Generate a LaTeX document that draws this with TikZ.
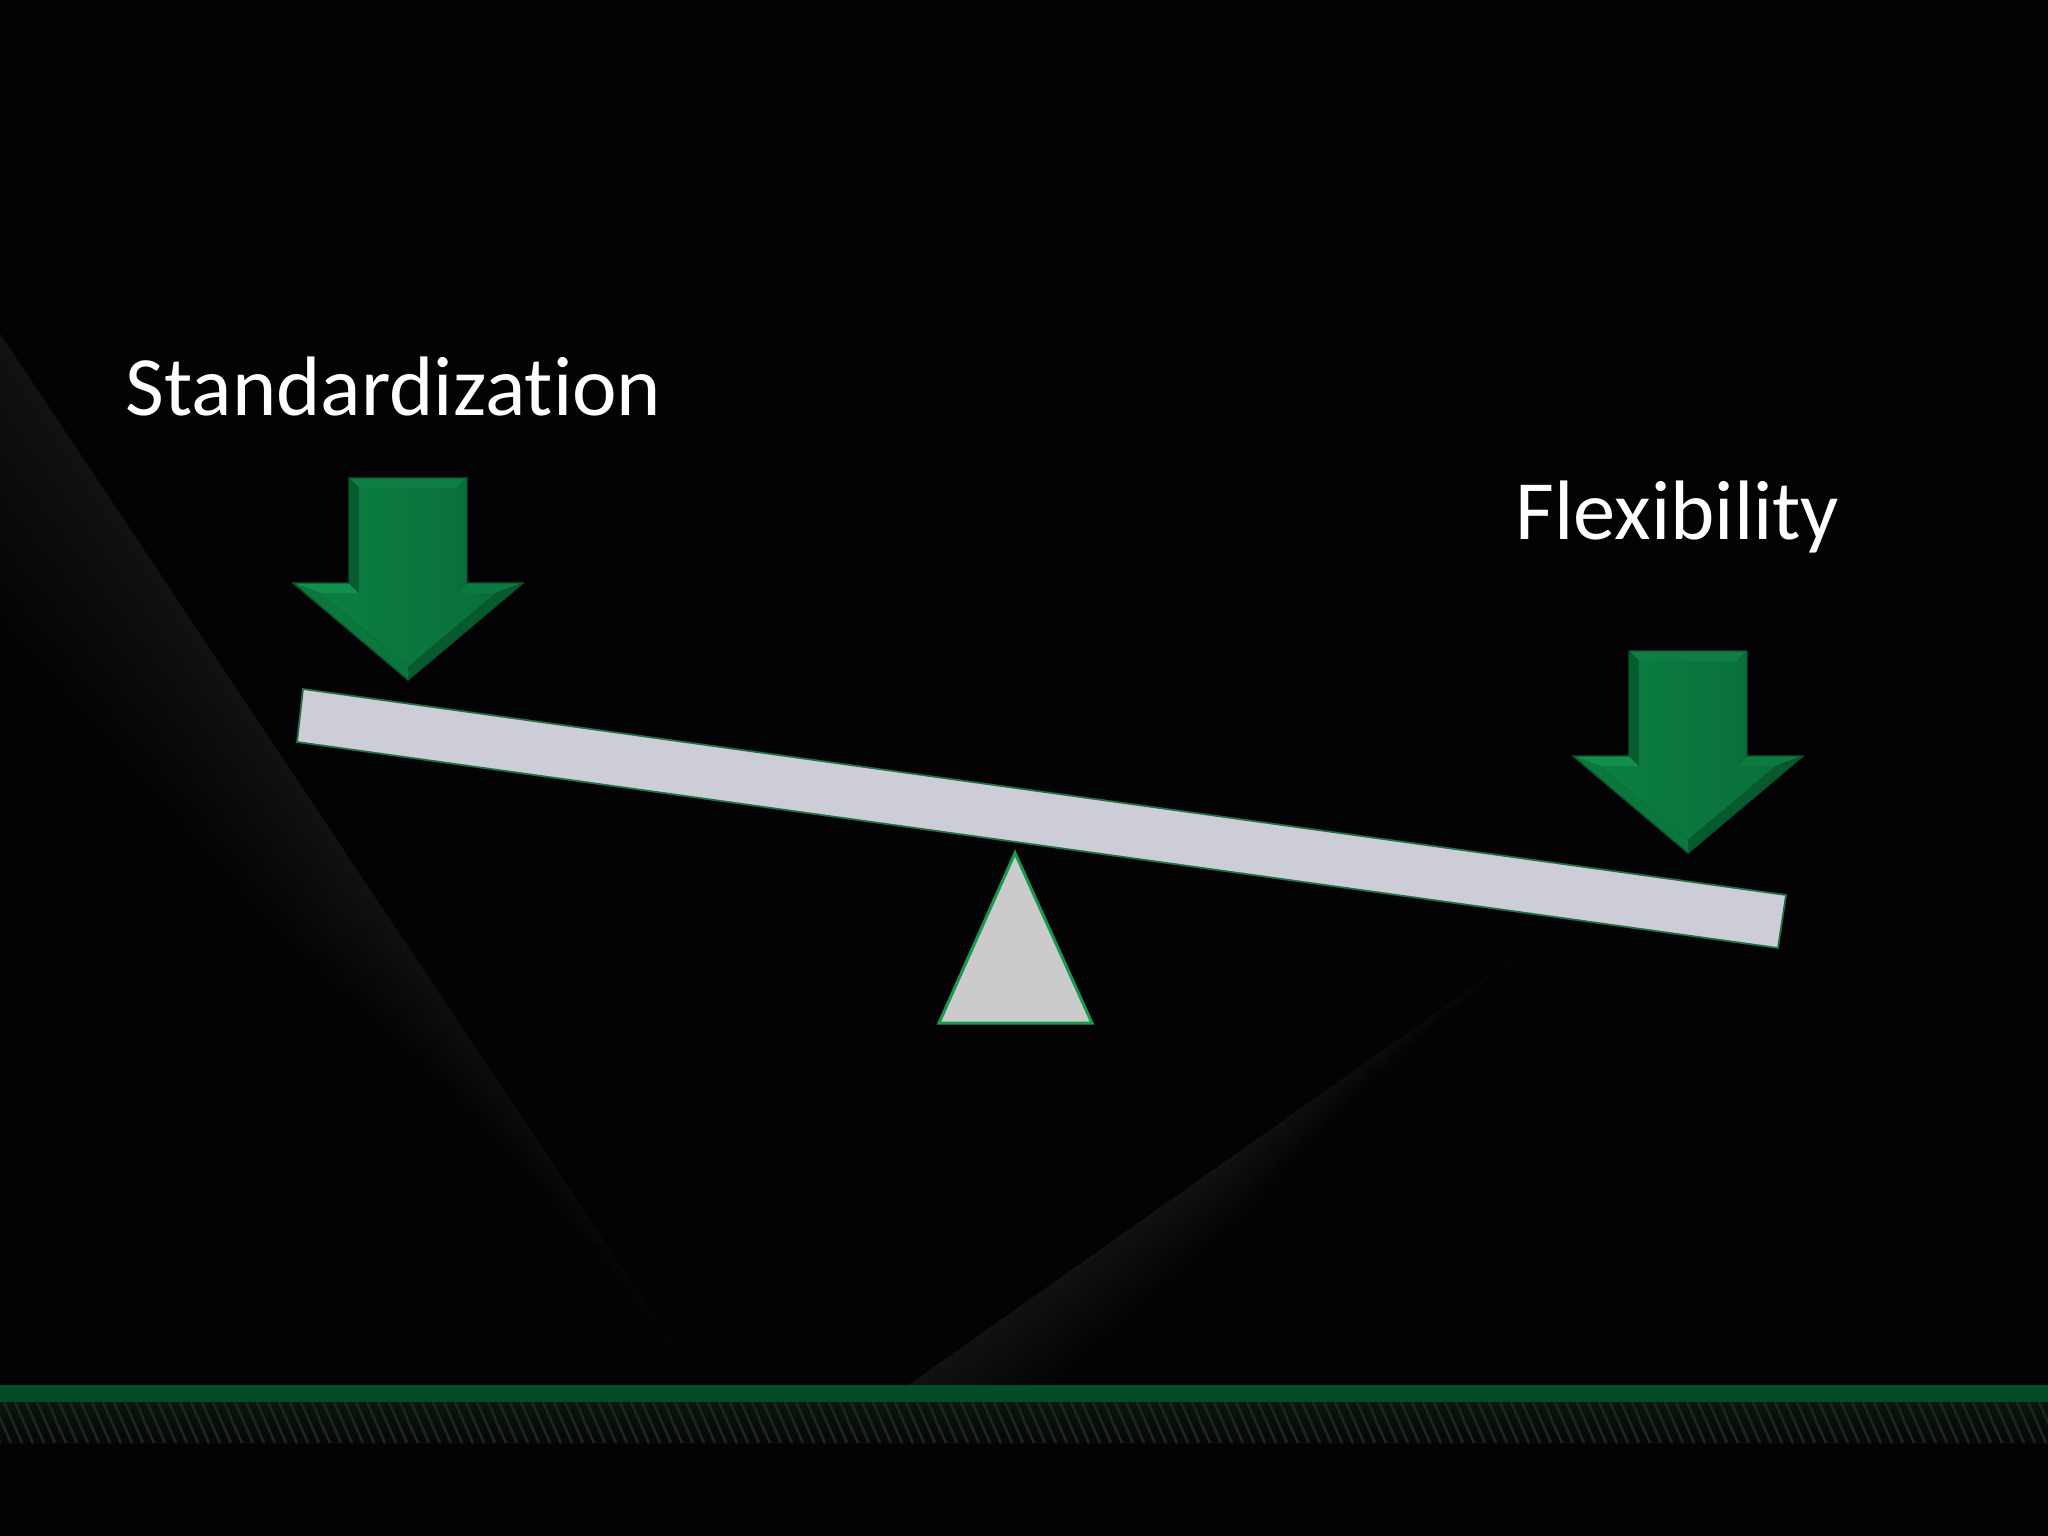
\documentclass[tikz,border=0pt]{standalone}
\usepackage{fontspec}
\setmainfont{Carlito}[Ligatures=NoCommon]
\begin{document}
\begin{tikzpicture}[x=0.01cm,y=-0.01cm,
  lbl/.style={inner sep=0pt,text=white,font=\fontsize{24pt}{29pt}\selectfont},
  glowlayer/.style={fill=white,opacity=0.0068}]
\definecolor{bgc}{HTML}{030305}
\definecolor{stripe}{HTML}{034D26}
\definecolor{hatchtop}{HTML}{0B140E}
\definecolor{hatchbot}{HTML}{050706}
\definecolor{hatchline}{HTML}{1A251E}
\definecolor{beamc}{HTML}{CCCDD7}
\definecolor{beamedge}{HTML}{1E7047}
\definecolor{trifill}{HTML}{CBCBCB}
\definecolor{triedge}{HTML}{169A4F}
\definecolor{abodyL}{HTML}{0C7F42}
\definecolor{abodyR}{HTML}{0A6F3A}
\definecolor{atop}{HTML}{0E7E44}
\definecolor{aleft}{HTML}{075C30}
\definecolor{aright}{HTML}{096E3B}
\definecolor{awingL}{HTML}{12904B}
\definecolor{awingR}{HTML}{0B7A40}
\definecolor{aslantL}{HTML}{0B773D}
\definecolor{aslantR}{HTML}{075A2D}
\definecolor{aout}{HTML}{08552C}
\useasboundingbox (0,0) rectangle (2048,1536);
\fill[bgc] (0,0) rectangle (2048,1536);
% left glow
\foreach \k in {1,...,14}{
  \pgfmathsetmacro\f{\k/14}
  \pgfmathsetmacro\s{1-0.45*(\k-1)/13}
  \pgfmathsetmacro\ex{\s*700}
  \pgfmathsetmacro\ey{333+\s*1052}
  \pgfmathsetmacro\w{190+\s*(18-190)}
  \fill[glowlayer] (0,333) -- (\ex,\ey) -- (\ex-0.8325*\f*\w,\ey+0.554*\f*\w)
     -- (-0.8325*\f*190,333+0.554*\f*190) -- cycle;
}
% right glow
\foreach \k in {1,...,14}{
  \pgfmathsetmacro\f{\k/14}
  \pgfmathsetmacro\s{1-0.5*(\k-1)/13}
  \pgfmathsetmacro\ex{908+\s*652}
  \pgfmathsetmacro\ey{1385-\s*460}
  \pgfmathsetmacro\w{95+\s*(8-95)}
  \fill[glowlayer] (908,1385) -- (\ex,\ey) -- (\ex+0.5764*\f*\w,\ey+0.817*\f*\w)
     -- (908+0.5764*\f*95,1385+0.817*\f*95) -- cycle;
}
% bottom band
\fill[bgc] (0,1385) rectangle (2048,1536);
\fill[stripe] (0,1385) rectangle (2048,1402);
\shade[top color=hatchtop,bottom color=hatchbot] (0,1402) rectangle (2048,1443);
\begin{scope}
  \clip (0,1402) rectangle (2048,1443);
  \foreach \x in {-40,-29,...,2060}
    \draw[hatchline,line width=0.8pt] (\x,1402) -- (\x+18,1443);
\end{scope}
% beam
\fill[beamc,draw=beamedge,line width=0.5pt] (303,689) -- (1786,895) -- (1778,948) -- (297,742) -- cycle;
% fulcrum
\filldraw[fill=trifill,draw=triedge,line width=0.85pt,line join=miter] (1015,853) -- (1092,1023) -- (939,1023) -- cycle;
% arrows
\foreach \cx/\ty in {408/478,1688/651}{
 \begin{scope}[shift={(\cx,\ty)}]
  \coordinate (A) at (-59,0);   \coordinate (B) at (59,0);
  \coordinate (C) at (59,105);  \coordinate (D) at (115,105);
  \coordinate (E) at (0,202);   \coordinate (F) at (-115,105);
  \coordinate (G) at (-59,105);
  \coordinate (A1) at (-49,10); \coordinate (B1) at (49,10);
  \coordinate (C1) at (49,115); \coordinate (D1) at (87.6,115);
  \coordinate (E1) at (0,188.9);\coordinate (F1) at (-87.6,115);
  \coordinate (G1) at (-49,115);
  \fill[atop]    (A) -- (B) -- (B1) -- (A1) -- cycle;
  \fill[aright]  (B) -- (C) -- (C1) -- (B1) -- cycle;
  \fill[awingR]  (C) -- (D) -- (D1) -- (C1) -- cycle;
  \fill[aslantR] (D) -- (E) -- (E1) -- (D1) -- cycle;
  \fill[aslantL] (E) -- (F) -- (F1) -- (E1) -- cycle;
  \fill[awingL]  (F) -- (G) -- (G1) -- (F1) -- cycle;
  \fill[aleft]   (G) -- (A) -- (A1) -- (G1) -- cycle;
  \shade[left color=abodyL,right color=abodyR]
     (A1) -- (B1) -- (C1) -- (D1) -- (E1) -- (F1) -- (G1) -- cycle;
  \draw[aout,line width=0.4pt,line join=miter]
     (A) -- (B) -- (C) -- (D) -- (E) -- (F) -- (G) -- cycle;
 \end{scope}
}
% labels
\node[lbl,anchor=base west] (std) at (125,415) {Standardization};
\node[lbl,anchor=base west] (flex) at (1515,539) {Flexibility};
\end{tikzpicture}
\end{document}
